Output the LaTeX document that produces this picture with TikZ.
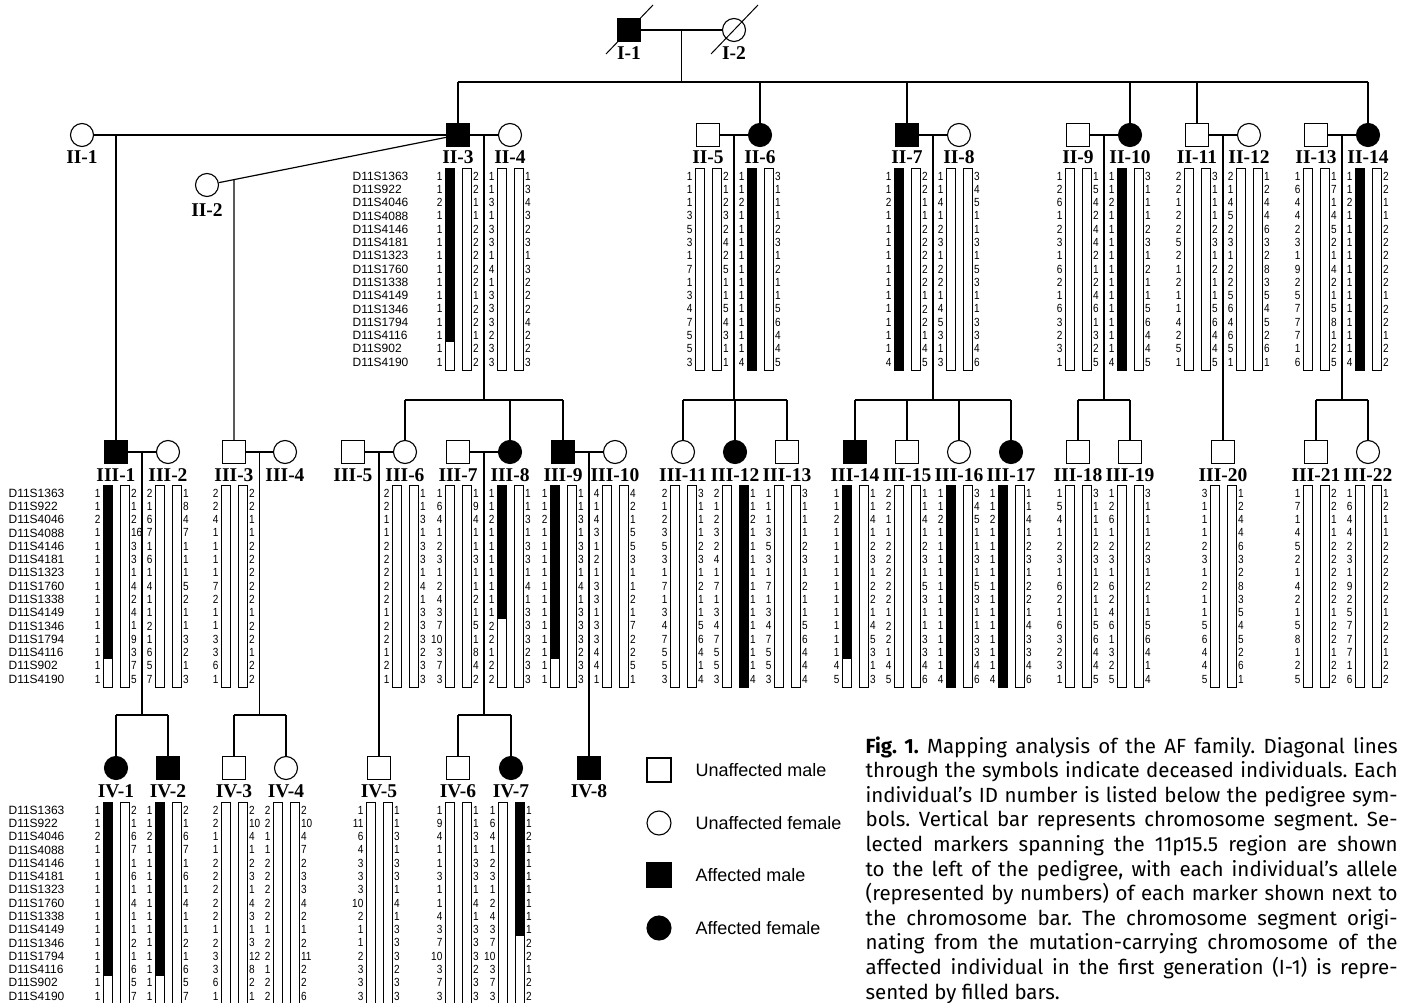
\documentclass[tikz,border=0pt]{standalone}
\usepackage{fontspec}
\setmainfont{Liberation Sans}
\newfontfamily\tnr{Liberation Serif}
\newfontfamily\capf{Fira Sans}
\newfontfamily\numf[FakeStretch=0.85]{Liberation Sans}
\usetikzlibrary{calc}
\newcommand\hap[6]{%
 \pgfmathsetmacro\hx{#1}%
 \pgfmathsetmacro\hy{#2}%
 \pgfmathsetmacro\hbot{#2+14*13.29+8}%
 \pgfmathsetmacro\hf{(#6==15) ? \hbot : (#2+13.29*(#6-0.5))}%
 \ifcase#5\relax
 \or \fill (\hx-13,\hy-8) rectangle (\hx-4,\hf);
 \or \fill (\hx+4,\hy-8) rectangle (\hx+13,\hf);
 \fi
 \draw[bar] (\hx-13,\hy-8) rectangle (\hx-4,\hbot);
 \draw[bar] (\hx+4,\hy-8) rectangle (\hx+13,\hbot);
 \foreach \v [count=\i] in {#3} \node[num,anchor=east] at (\hx-15,\hy+13.29*\i-13.29) {\v};
 \foreach \v [count=\i] in {#4} \node[num,anchor=west] at (\hx+14.5,\hy+13.29*\i-13.29) {\v};
}
\newcommand\mkcol[2]{%
 \foreach \m [count=\i] in {D11S1363,D11S922,D11S4046,D11S4088,D11S4146,D11S4181,D11S1323,D11S1760,D11S1338,D11S4149,D11S1346,D11S1794,D11S4116,D11S902,D11S4190}
 \node[mk] at (#1,#2+13.29*\i-13.29) {\m};}
\newcommand\capline[2]{\node[capn] (cap#1) at (865,{753+24.6*(#1-1)}) {\makebox[532pt][s]{#2}};}
\begin{document}
\begin{tikzpicture}[x=1pt,y=-1pt,line width=1.2pt,
  male/.style={draw,minimum size=23pt,inner sep=0,line width=1.1pt},
  female/.style={draw,circle,minimum size=23pt,inner sep=0,line width=1.1pt},
  aff/.style={fill=black},
  lab/.style={font=\tnr\bfseries\fontsize{19.5}{20}\selectfont,inner sep=0},
  num/.style={font=\numf\fontsize{11.8}{12}\selectfont,inner sep=0},
  mk/.style={font=\fontsize{12}{12}\selectfont,inner sep=0,anchor=west},
  bar/.style={draw,line width=0.9pt},
  leg/.style={font=\fontsize{18}{20}\selectfont,inner sep=0,anchor=west},
  capn/.style={anchor=base west,inner sep=0,font=\capf\fontsize{20.5}{22}\selectfont\frenchspacing}]
\useasboundingbox (0,0) rectangle (1403,1003);
\path (0,400) coordinate (yIII) (0,715) coordinate (yIV) (0,82) coordinate (yII);

% ---------- generation I
\node[male,aff] (I1) at (629,30) {};
\node[female] (I2) at (734,30) {};
\draw[line width=1pt] ($(I1)+(-23,24)$) -- ($(I1)+(24,-25)$);
\draw[line width=1pt] ($(I2)+(-23,24)$) -- ($(I2)+(24,-25)$);
\node[lab] (lI1) at (629,53) {I-1};
\node[lab] (lI2) at (734,53) {I-2};
\draw (I1) -- (I2);
\coordinate (mI1) at ($(I1)!0.5!(I2)$);
\draw (mI1) -- (mI1 |- yII);

% ---------- generation II
\node[female] (II1) at (82,135) {};
\node[female] (II2) at (207,185) {};
\node[male,aff] (II3) at (458,135) {};
\node[female] (II4) at (510,135) {};
\node[male] (II5) at (708,135) {};
\node[female,aff] (II6) at (760,135) {};
\node[male,aff] (II7) at (907,135) {};
\node[female] (II8) at (959,135) {};
\node[male] (II9) at (1078,135) {};
\node[female,aff] (II10) at (1130,135) {};
\node[male] (II11) at (1197,135) {};
\node[female] (II12) at (1249,135) {};
\node[male] (II13) at (1316,135) {};
\node[female,aff] (II14) at (1368,135) {};
\foreach \n/\t in {II1/II-1,II3/II-3,II4/II-4,II5/II-5,II6/II-6,II7/II-7,II8/II-8,II9/II-9,II10/II-10,II11/II-11,II12/II-12,II13/II-13,II14/II-14}
  \node[lab] (l\n) at ($(\n)+(0,22)$) {\t};
\node[lab] (lII2) at ($(II2)+(0,25)$) {II-2};
\draw (II3 |- yII) -- (II14 |- yII);
\foreach \n in {II3,II6,II7,II10,II11,II14} \draw (\n |- yII) -- (\n);

% couples of generation II
\draw (II1) -- (II3);
\draw (II2) -- (II3);
\coordinate (d13) at (116,135);
\coordinate (d23) at ($(II2)!{27/251}!(II3)$);
\foreach \a/\b in {II3/II4,II5/II6,II7/II8,II9/II10,II11/II12,II13/II14}
  {\draw (\a) -- (\b); \coordinate (m\a) at ($(\a)!0.5!(\b)$);}

% ---------- generation III
\node[male,aff] (III1) at (116,452) {};
\node[female] (III2) at (168,452) {};
\node[male] (III3) at (234,452) {};
\node[female] (III4) at (285,452) {};
\node[male] (III5) at (353,452) {};
\node[female] (III6) at (405,452) {};
\node[male] (III7) at (458,452) {};
\node[female,aff] (III8) at (510,452) {};
\node[male,aff] (III9) at (563,452) {};
\node[female] (III10) at (615,452) {};
\node[female] (III11) at (683,452) {};
\node[female,aff] (III12) at (735,452) {};
\node[male] (III13) at (787,452) {};
\node[male,aff] (III14) at (855,452) {};
\node[male] (III15) at (907,452) {};
\node[female] (III16) at (959,452) {};
\node[female,aff] (III17) at (1011,452) {};
\node[male] (III18) at (1078,452) {};
\node[male] (III19) at (1130,452) {};
\node[male] (III20) at (1223,452) {};
\node[male] (III21) at (1316,452) {};
\node[female] (III22) at (1368,452) {};
\foreach \n/\t in {III1/III-1,III2/III-2,III3/III-3,III4/III-4,III5/III-5,III6/III-6,III7/III-7,III8/III-8,III9/III-9,III10/III-10,III11/III-11,III12/III-12,III13/III-13,III14/III-14,III15/III-15,III16/III-16,III17/III-17,III18/III-18,III19/III-19,III20/III-20,III21/III-21,III22/III-22}
  \node[lab] (l\n) at ($(\n)+(0,23)$) {\t};

% descents gen II -> III
\draw (d13) -- (III1);
\draw (d23) -- (III3);
\draw (mII3) -- (mII3 |- yIII);
\draw (III6 |- yIII) -- (III9 |- yIII);
\foreach \n in {III6,III8,III9} \draw (\n |- yIII) -- (\n);
\draw (mII5) -- (mII5 |- yIII);
\draw (III11 |- yIII) -- (III13 |- yIII);
\foreach \n in {III11,III12,III13} \draw (\n |- yIII) -- (\n);
\draw (mII7) -- (mII7 |- yIII);
\draw (III14 |- yIII) -- (III17 |- yIII);
\foreach \n in {III14,III15,III16,III17} \draw (\n |- yIII) -- (\n);
\draw (mII9) -- (mII9 |- yIII);
\draw (III18 |- yIII) -- (III19 |- yIII);
\foreach \n in {III18,III19} \draw (\n |- yIII) -- (\n);
\draw (mII11) -- (III20);
\draw (mII13) -- (mII13 |- yIII);
\draw (III21 |- yIII) -- (III22 |- yIII);
\foreach \n in {III21,III22} \draw (\n |- yIII) -- (\n);

% couples of generation III
\foreach \a/\b in {III1/III2,III3/III4,III5/III6,III7/III8,III9/III10}
  {\draw (\a) -- (\b); \coordinate (m\a) at ($(\a)!0.5!(\b)$);}

% ---------- generation IV
\node[female,aff] (IV1) at (116,768) {};
\node[male,aff] (IV2) at (168,768) {};
\node[male] (IV3) at (234,768) {};
\node[female] (IV4) at (286,768) {};
\node[male] (IV5) at (379,768) {};
\node[male] (IV6) at (458,768) {};
\node[female,aff] (IV7) at (511,768) {};
\node[male,aff] (IV8) at (589,768) {};
\foreach \n/\t in {IV1/IV-1,IV2/IV-2,IV3/IV-3,IV4/IV-4,IV5/IV-5,IV6/IV-6,IV7/IV-7,IV8/IV-8}
  \node[lab] (l\n) at ($(\n)+(0,23)$) {\t};
\draw (mIII1) -- (mIII1 |- yIV);
\draw (IV1 |- yIV) -- (IV2 |- yIV);
\foreach \n in {IV1,IV2} \draw (\n |- yIV) -- (\n);
\draw (mIII3) -- (mIII3 |- yIV);
\draw (IV3 |- yIV) -- (IV4 |- yIV);
\foreach \n in {IV3,IV4} \draw (\n |- yIV) -- (\n);
\draw (mIII5) -- (IV5);
\draw (mIII7) -- (mIII7 |- yIV);
\draw (IV6 |- yIV) -- (IV7 |- yIV);
\foreach \n in {IV6,IV7} \draw (\n |- yIV) -- (\n);
\draw (mIII9) -- (IV8);

% ---------- haplotypes
\mkcol{352}{176}
\mkcol{8}{493}
\mkcol{8}{810}
% gen II
\hap{458}{176}{1,1,2,1,1,1,1,1,1,1,1,1,1,1,1}{2,2,1,1,2,2,2,2,2,1,2,2,1,2,2}{1}{13}
\hap{510}{176}{1,1,3,1,3,3,1,4,1,3,3,3,2,3,3}{1,3,4,3,2,3,1,3,2,2,2,4,2,2,3}{0}{0}
\hap{708}{176}{1,1,1,3,5,3,1,7,1,3,4,7,5,5,3}{2,1,2,3,2,4,2,5,1,1,5,4,3,1,1}{0}{0}
\hap{760}{176}{1,1,2,1,1,1,1,1,1,1,1,1,1,1,4}{3,1,1,1,2,3,1,2,1,1,5,6,4,4,5}{1}{15}
\hap{907}{176}{1,1,2,1,1,1,1,1,1,1,1,1,1,1,4}{2,2,1,1,2,2,2,2,2,1,2,2,1,4,5}{1}{15}
\hap{959}{176}{1,1,4,1,2,3,1,2,2,1,4,5,3,1,3}{3,4,5,1,1,3,1,5,3,1,1,3,3,4,6}{0}{0}
\hap{1078}{176}{1,2,6,1,2,3,1,6,2,1,6,3,2,3,1}{1,5,4,2,4,4,2,1,2,4,6,1,3,2,5}{0}{0}
\hap{1130}{176}{1,1,2,1,1,1,1,1,1,1,1,1,1,1,4}{3,1,1,1,2,3,1,2,1,1,5,6,4,4,5}{1}{15}
\hap{1197}{176}{2,2,1,2,2,5,2,1,2,1,1,4,2,5,1}{3,1,1,1,2,3,1,2,1,1,5,6,4,4,5}{0}{0}
\hap{1249}{176}{2,1,4,5,2,3,1,2,2,5,6,4,6,5,1}{1,2,4,4,6,3,2,8,3,5,4,5,2,6,1}{0}{0}
\hap{1316}{176}{1,6,4,4,2,3,1,9,2,5,7,7,7,1,6}{1,7,1,4,5,2,1,4,2,1,5,8,1,2,5}{0}{0}
\hap{1368}{176}{1,1,2,1,1,1,1,1,1,1,1,1,1,1,4}{2,2,1,1,2,2,2,2,2,1,2,2,1,2,2}{1}{15}
% gen III
\hap{116}{493}{1,1,2,1,1,1,1,1,1,1,1,1,1,1,1}{2,1,2,16,3,3,1,4,2,4,1,9,3,7,5}{1}{13}
\hap{168}{493}{2,1,6,7,1,6,1,4,1,1,2,1,6,5,7}{1,8,4,7,1,1,1,5,2,1,1,3,2,1,3}{0}{0}
\hap{234}{493}{2,2,4,1,1,1,1,7,2,1,1,3,3,6,1}{2,2,1,1,2,2,2,2,2,1,2,2,1,2,2}{0}{0}
\hap{405}{493}{2,2,1,1,2,2,2,2,2,1,2,2,1,2,1}{1,1,3,1,3,3,1,4,1,3,3,3,2,3,3}{0}{0}
\hap{458}{493}{1,6,4,1,2,3,1,2,4,3,7,10,3,7,3}{1,9,4,1,1,3,1,1,2,1,5,1,8,4,2}{0}{0}
\hap{510}{493}{1,1,2,1,1,1,1,1,1,1,2,2,1,2,2}{1,1,3,1,3,3,1,4,1,3,3,3,2,3,3}{1}{10}
\hap{563}{493}{1,1,2,1,1,1,1,1,1,1,1,1,1,1,1}{1,1,3,1,3,3,1,4,1,3,3,3,2,3,3}{1}{13}
\hap{615}{493}{4,1,4,3,1,2,1,3,3,1,3,3,4,4,1}{4,2,1,5,5,3,1,1,2,1,7,2,2,5,1}{0}{0}
\hap{683}{493}{2,1,2,3,5,3,1,7,1,3,4,7,5,5,3}{3,1,1,1,2,3,1,2,1,1,5,6,4,1,4}{0}{0}
\hap{735}{493}{2,1,2,3,2,4,1,7,1,3,4,7,5,5,3}{1,1,2,1,1,1,1,1,1,1,1,1,1,1,4}{2}{15}
\hap{787}{493}{1,1,1,3,5,3,1,7,1,3,4,7,5,5,3}{3,1,1,1,2,3,1,2,1,1,5,6,4,4,4}{0}{0}
\hap{855}{493}{1,1,2,1,1,1,1,1,1,1,1,1,1,4,5}{1,1,4,1,2,3,1,2,2,1,4,5,3,1,3}{1}{13}
\hap{907}{493}{2,2,1,1,2,2,2,2,2,1,2,2,1,4,5}{1,1,4,1,2,3,1,5,3,1,1,3,3,4,6}{0}{0}
\hap{959}{493}{1,1,2,1,1,1,1,1,1,1,1,1,1,1,4}{3,4,5,1,1,3,1,5,3,1,1,3,3,4,6}{1}{15}
\hap{1011}{493}{1,1,2,1,1,1,1,1,1,1,1,1,1,1,4}{1,1,4,1,2,3,1,2,2,1,4,3,3,4,6}{1}{15}
\hap{1078}{493}{1,5,4,1,2,3,1,6,2,1,6,3,2,3,1}{3,1,1,1,2,3,1,2,1,1,5,6,4,4,5}{0}{0}
\hap{1130}{493}{1,2,6,1,2,3,1,6,2,4,6,1,3,2,5}{3,1,1,1,2,3,1,2,1,1,5,6,4,1,4}{0}{0}
\hap{1223}{493}{3,1,1,1,2,3,1,2,1,1,5,6,4,4,5}{1,2,4,4,6,3,2,8,3,5,4,5,2,6,1}{0}{0}
\hap{1316}{493}{1,7,1,4,5,2,1,4,2,1,5,8,1,2,5}{2,2,1,1,2,2,2,2,2,1,2,2,1,2,2}{0}{0}
\hap{1368}{493}{1,6,4,4,2,3,1,9,2,5,7,7,7,1,6}{1,2,1,1,2,2,2,2,2,1,2,2,1,2,2}{0}{0}
% gen IV
\hap{116}{810}{1,1,2,1,1,1,1,1,1,1,1,1,1,1,1}{2,1,6,7,1,6,1,4,1,1,2,1,6,5,7}{1}{13}
\hap{168}{810}{1,1,2,1,1,1,1,1,1,1,1,1,1,1,1}{2,1,6,7,1,6,1,4,1,1,2,1,6,5,7}{1}{13}
\hap{234}{810}{2,2,1,1,2,2,2,2,2,1,2,3,3,6,1}{2,10,4,1,2,3,1,4,3,1,3,12,8,2,1}{0}{0}
\hap{286}{810}{2,2,1,1,2,2,2,2,2,1,2,2,1,2,2}{2,10,4,7,2,3,3,4,2,1,2,11,2,2,6}{0}{0}
\hap{379}{810}{1,11,6,4,3,3,3,10,2,1,1,2,3,3,3}{1,1,3,1,3,3,1,4,1,3,3,3,2,3,3}{0}{0}
\hap{458}{810}{1,9,4,1,1,3,1,1,4,3,7,10,3,7,3}{1,1,3,1,3,3,1,4,1,3,3,3,2,3,3}{0}{0}
\hap{511}{810}{1,6,4,1,2,3,1,2,4,3,7,10,3,7,3}{1,1,2,1,1,1,1,1,1,1,2,2,1,2,2}{2}{10}

% ---------- legend
\node[male,minimum size=24pt] (k1) at (659,770) {};
\node[female,minimum size=24pt] (k2) at (659,823) {};
\node[male,aff,minimum size=24pt] (k3) at (659,875) {};
\node[female,aff,minimum size=24pt] (k4) at (659,928) {};
\node[leg] (t1) at (695,770) {Unaffected male};
\node[leg] (t2) at (695,823) {Unaffected female};
\node[leg] (t3) at (695,875) {Affected male};
\node[leg] (t4) at (695,928) {Affected female};

% ---------- caption
\capline{1}{{\bfseries Fig. 1.} Mapping analysis of the AF family. Diagonal lines}
\capline{2}{through the symbols indicate deceased individuals. Each}
\capline{3}{individual’s ID number is listed below the pedigree sym-}
\capline{4}{bols. Vertical bar represents chromosome segment. Se-}
\capline{5}{lected markers spanning the 11p15.5 region are shown}
\capline{6}{to the left of the pedigree, with each individual’s allele}
\capline{7}{(represented by numbers) of each marker shown next to}
\capline{8}{the chromosome bar. The chromosome segment origi-}
\capline{9}{nating from the mutation-carrying chromosome of the}
\capline{10}{affected individual in the first generation (I-1) is repre-}
\node[capn] (cap11) at (865,999.4) {sented by filled bars.};
\end{tikzpicture}
\end{document}
